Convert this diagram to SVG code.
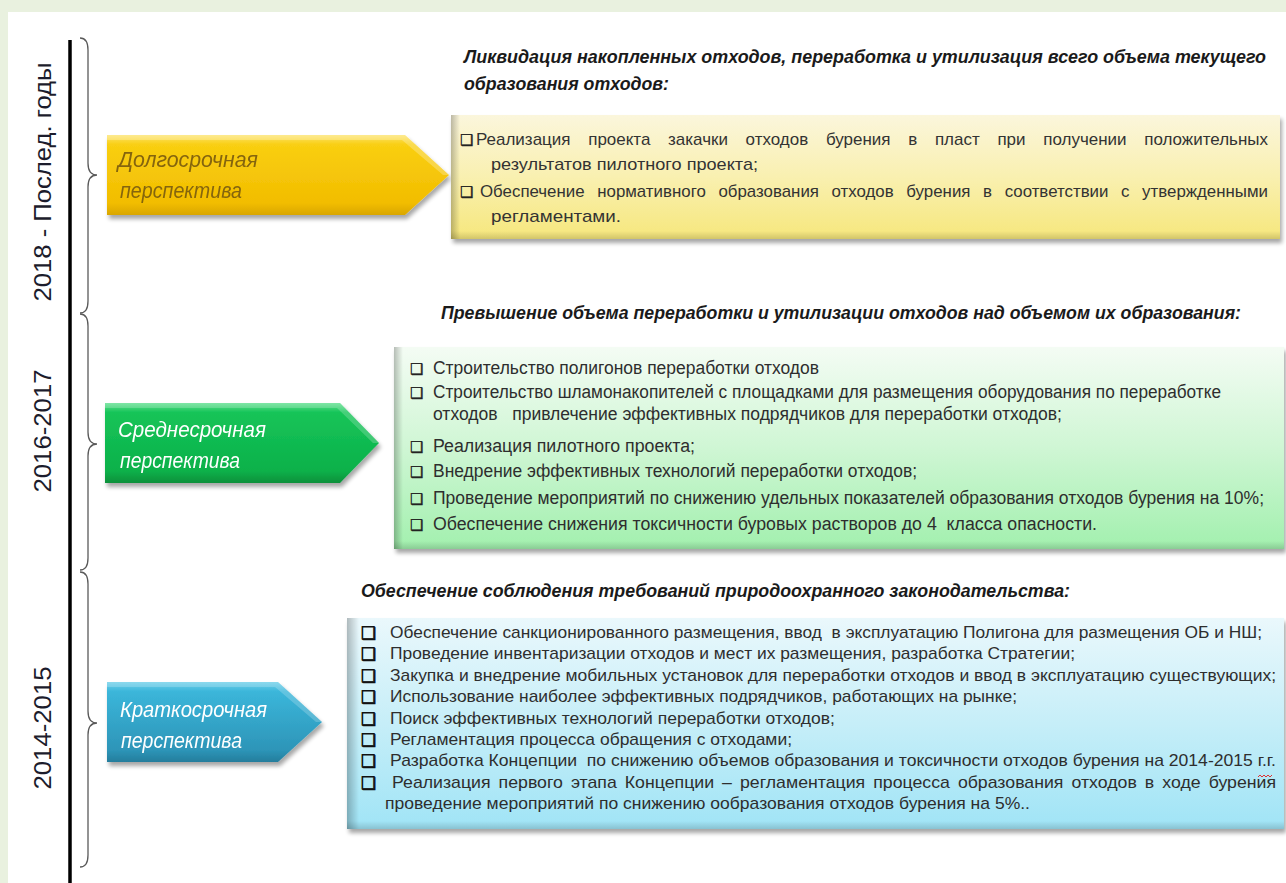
<svg xmlns="http://www.w3.org/2000/svg" width="1286" height="883" viewBox="0 0 1286 883">
<style>
.yr{font-family:"Liberation Sans",Arial,sans-serif;font-size:24px;fill:#1c1c2c;text-anchor:middle}
.lbl{font-family:"Liberation Sans",Arial,sans-serif;font-style:italic;font-size:22px}
.hd{font-family:"Liberation Sans",Arial,sans-serif;font-style:italic;font-weight:bold;font-size:18px;fill:#1a1a1a}
.tx{font-family:"Liberation Sans",Arial,sans-serif;font-size:18px;fill:#2e2e2e}
.tb{font-family:"Liberation Sans",Arial,sans-serif;font-size:17px;fill:#2e2e2e}
.ty{font-family:"Liberation Sans",Arial,sans-serif;font-size:17px;fill:#333}
.bu{font-family:"DejaVu Sans",sans-serif;font-size:15px;fill:#222;stroke:#222;stroke-width:0.4}
.bb{font-family:"DejaVu Sans",sans-serif;font-size:17px;fill:#111;stroke:#111;stroke-width:0.7}
.brace{fill:none;stroke:#5a5a5a;stroke-width:1.3}
</style>
<defs>
<filter id="sh" x="-5%" y="-10%" width="115%" height="140%">
<feGaussianBlur in="SourceAlpha" stdDeviation="2"/>
<feOffset dx="2" dy="4"/>
<feComponentTransfer><feFuncA type="linear" slope="0.35"/></feComponentTransfer>
<feMerge><feMergeNode/><feMergeNode in="SourceGraphic"/></feMerge>
</filter>
<linearGradient id="gY" x1="0" y1="0" x2="0" y2="1">
<stop offset="0" stop-color="#fde36a"/><stop offset="0.12" stop-color="#f9cf12"/><stop offset="0.85" stop-color="#f2bd00"/><stop offset="1" stop-color="#d9a600"/>
</linearGradient>
<linearGradient id="gG" x1="0" y1="0" x2="0" y2="1">
<stop offset="0" stop-color="#5fe08f"/><stop offset="0.12" stop-color="#17c458"/><stop offset="0.85" stop-color="#0ab14a"/><stop offset="1" stop-color="#08903a"/>
</linearGradient>
<linearGradient id="gB" x1="0" y1="0" x2="0" y2="1">
<stop offset="0" stop-color="#6fd0ea"/><stop offset="0.12" stop-color="#3bb6da"/><stop offset="0.85" stop-color="#2d95b8"/><stop offset="1" stop-color="#247d9c"/>
</linearGradient>
<linearGradient id="bY" x1="0" y1="0" x2="0" y2="1">
<stop offset="0" stop-color="#fbf6dc"/><stop offset="0.5" stop-color="#f9f0b0"/><stop offset="1" stop-color="#f6e77c"/>
</linearGradient>
<linearGradient id="bG" x1="0" y1="0" x2="0" y2="1">
<stop offset="0" stop-color="#f4fcf4"/><stop offset="0.5" stop-color="#cff6d4"/><stop offset="1" stop-color="#a2f0ae"/>
</linearGradient>
<linearGradient id="bB" x1="0" y1="0" x2="0" y2="1">
<stop offset="0" stop-color="#eaf8fc"/><stop offset="0.5" stop-color="#c6eef8"/><stop offset="1" stop-color="#a0e4f6"/>
</linearGradient>
<linearGradient id="edgeL" x1="0" y1="0" x2="1" y2="0">
<stop offset="0" stop-color="#000" stop-opacity="0.25"/><stop offset="1" stop-color="#000" stop-opacity="0"/>
</linearGradient>
<linearGradient id="edgeB" x1="0" y1="0" x2="0" y2="1">
<stop offset="0" stop-color="#000" stop-opacity="0"/><stop offset="1" stop-color="#000" stop-opacity="0.15"/>
</linearGradient>
</defs>

<rect x="0" y="0" width="1286" height="883" fill="#e9f1df"/>
<rect x="8" y="12" width="1278" height="871" fill="#ffffff"/>

<g id="connectors">
<line x1="70" y1="40" x2="70" y2="883" stroke="#000" stroke-width="3.5"/>
<path class="brace" d="M80,38 Q88,38 88,50 L88,163 Q88,175 97,175 Q88,175 88,187 L88,301 Q88,313 80,313"/>
<path class="brace" d="M80,314 Q88,314 88,326 L88,432 Q88,444 97,444 Q88,444 88,456 L88,558 Q88,570 80,570"/>
<path class="brace" d="M80,572 Q88,572 88,584 L88,711 Q88,723 97,723 Q88,723 88,735 L88,855 Q88,867 80,867"/>
</g>

<g id="year-long"><text class="yr" transform="translate(51,182) rotate(-90)" textLength="239" lengthAdjust="spacingAndGlyphs">2018 - Послед. годы</text></g>
<g id="year-mid"><text class="yr" transform="translate(51,431) rotate(-90)" textLength="123" lengthAdjust="spacingAndGlyphs">2016-2017</text></g>
<g id="year-short"><text class="yr" transform="translate(51,728) rotate(-90)" textLength="123" lengthAdjust="spacingAndGlyphs">2014-2015</text></g>

<g id="arrow-long" filter="url(#sh)">
<path d="M107,135 L405,135 L449,175 L405,215 L107,215 Z" fill="url(#gY)"/>
<path d="M107,135 L405,135 L449,175 L443,175 L402,140 L107,140 Z" fill="#fff" fill-opacity="0.25"/>
<text class="lbl" x="118" y="167" fill="#85650a" textLength="140" lengthAdjust="spacingAndGlyphs">Долгосрочная</text>
<text class="lbl" x="120" y="198" fill="#85650a" textLength="122" lengthAdjust="spacingAndGlyphs">перспектива</text>
</g>
<g id="arrow-mid" filter="url(#sh)">
<path d="M105,403 L340,403 L379,443 L340,483 L105,483 Z" fill="url(#gG)"/>
<path d="M105,403 L340,403 L379,443 L373,443 L337,408 L105,408 Z" fill="#fff" fill-opacity="0.2"/>
<text class="lbl" x="118" y="437" fill="#ffffff" textLength="148" lengthAdjust="spacingAndGlyphs">Среднесрочная</text>
<text class="lbl" x="120" y="468" fill="#ffffff" textLength="120" lengthAdjust="spacingAndGlyphs">перспектива</text>
</g>
<g id="arrow-short" filter="url(#sh)">
<path d="M107,682 L278,682 L322,722 L278,762 L107,762 Z" fill="url(#gB)"/>
<path d="M107,682 L278,682 L322,722 L316,722 L275,687 L107,687 Z" fill="#fff" fill-opacity="0.2"/>
<text class="lbl" x="120" y="717" fill="#ffffff" textLength="147" lengthAdjust="spacingAndGlyphs">Краткосрочная</text>
<text class="lbl" x="121" y="748" fill="#ffffff" textLength="121" lengthAdjust="spacingAndGlyphs">перспектива</text>
</g>

<g id="head-long">
<text class="hd" x="464" y="63" textLength="802" lengthAdjust="spacingAndGlyphs">Ликвидация накопленных отходов, переработка и утилизация  всего объема текущего</text>
<text class="hd" x="464" y="90" textLength="205" lengthAdjust="spacingAndGlyphs">образования отходов:</text>
</g>
<g id="box-long">
<rect x="451" y="115" width="829" height="124" fill="url(#bY)" filter="url(#sh)"/>
<rect x="451" y="115" width="9" height="124" fill="url(#edgeL)"/>
<rect x="451" y="231" width="829" height="8" fill="url(#edgeB)"/>
<text class="bu" x="460" y="145">❑</text>
<text class="ty" x="476" y="145" word-spacing="13" textLength="792" lengthAdjust="spacingAndGlyphs">Реализация проекта закачки отходов бурения в пласт при получении положительных</text>
<text class="ty" x="491" y="170" textLength="267" lengthAdjust="spacingAndGlyphs">результатов пилотного проекта;</text>
<text class="bu" x="460" y="197">❑</text>
<text class="ty" x="480" y="197" word-spacing="8" textLength="788" lengthAdjust="spacingAndGlyphs">Обеспечение нормативного образования отходов бурения в соответствии с утвержденными</text>
<text class="ty" x="491" y="222" textLength="130" lengthAdjust="spacingAndGlyphs">регламентами.</text>
</g>

<g id="head-mid">
<text class="hd" x="441" y="319" textLength="800" lengthAdjust="spacingAndGlyphs">Превышение объема переработки и утилизации отходов над объемом их образования:</text>
</g>
<g id="box-mid">
<rect x="394" y="347" width="890" height="202" fill="url(#bG)" filter="url(#sh)"/>
<rect x="394" y="347" width="9" height="202" fill="url(#edgeL)"/>
<rect x="394" y="541" width="890" height="8" fill="url(#edgeB)"/>
<text class="bu" x="410" y="374">❑</text>
<text class="tx" x="433" y="374" textLength="386" lengthAdjust="spacingAndGlyphs">Строительство полигонов переработки отходов</text>
<text class="bu" x="410" y="398">❑</text>
<text class="tx" x="433" y="398" textLength="788" lengthAdjust="spacingAndGlyphs">Строительство шламонакопителей с площадками для размещения оборудования по переработке</text>
<text class="tx" x="433" y="420" xml:space="preserve" textLength="629" lengthAdjust="spacingAndGlyphs">отходов   привлечение эффективных подрядчиков для переработки отходов;</text>
<text class="bu" x="410" y="452">❑</text>
<text class="tx" x="433" y="452" textLength="262" lengthAdjust="spacingAndGlyphs">Реализация пилотного проекта;</text>
<text class="bu" x="410" y="477">❑</text>
<text class="tx" x="433" y="477" textLength="484" lengthAdjust="spacingAndGlyphs">Внедрение эффективных технологий переработки отходов;</text>
<text class="bu" x="410" y="504">❑</text>
<text class="tx" x="433" y="504" textLength="831" lengthAdjust="spacingAndGlyphs">Проведение мероприятий по снижению удельных показателей образования отходов бурения на 10%;</text>
<text class="bu" x="410" y="530">❑</text>
<text class="tx" x="433" y="530" xml:space="preserve" textLength="664" lengthAdjust="spacingAndGlyphs">Обеспечение снижения токсичности буровых растворов до 4  класса опасности.</text>
</g>

<g id="head-short">
<text class="hd" x="361" y="597" textLength="709" lengthAdjust="spacingAndGlyphs">Обеспечение соблюдения требований природоохранного законодательства:</text>
</g>
<g id="box-short">
<rect x="347" y="618" width="937" height="211" fill="url(#bB)" filter="url(#sh)"/>
<rect x="347" y="618" width="12" height="211" fill="url(#edgeL)"/>
<rect x="347" y="821" width="937" height="8" fill="url(#edgeB)"/>
<text class="bb" x="361" y="639">❑</text>
<text class="tb" x="390" y="638" xml:space="preserve" textLength="872" lengthAdjust="spacingAndGlyphs">Обеспечение санкционированного размещения, ввод  в эксплуатацию Полигона для размещения ОБ и НШ;</text>
<text class="bb" x="361" y="660.4">❑</text>
<text class="tb" x="390" y="659.4" textLength="685" lengthAdjust="spacingAndGlyphs">Проведение инвентаризации отходов и мест их размещения, разработка Стратегии;</text>
<text class="bb" x="361" y="681.8">❑</text>
<text class="tb" x="390" y="680.8" textLength="886" lengthAdjust="spacingAndGlyphs">Закупка и внедрение мобильных установок для переработки отходов и ввод в эксплуатацию существующих;</text>
<text class="bb" x="361" y="703.2">❑</text>
<text class="tb" x="390" y="702.2" textLength="627" lengthAdjust="spacingAndGlyphs">Использование наиболее эффективных подрядчиков, работающих на рынке;</text>
<text class="bb" x="361" y="724.6">❑</text>
<text class="tb" x="390" y="723.6" textLength="445" lengthAdjust="spacingAndGlyphs">Поиск эффективных технологий переработки отходов;</text>
<text class="bb" x="361" y="746">❑</text>
<text class="tb" x="390" y="745" textLength="402" lengthAdjust="spacingAndGlyphs">Регламентация процесса обращения с отходами;</text>
<text class="bb" x="361" y="767.4">❑</text>
<text class="tb" x="390" y="766.4" xml:space="preserve" textLength="886" lengthAdjust="spacingAndGlyphs">Разработка Концепции  по снижению объемов образования и токсичности отходов бурения на 2014-2015 г.г.</text>
<text class="bb" x="361" y="788.8">❑</text>
<text class="tb" x="392" y="787.8" word-spacing="3" textLength="884" lengthAdjust="spacingAndGlyphs">Реализация первого этапа Концепции – регламентация процесса образования отходов в ходе бурения</text>
<text class="tb" x="385" y="809.2" textLength="645" lengthAdjust="spacingAndGlyphs">проведение мероприятий по снижению ообразования отходов бурения на 5%..</text>
<path d="M1258,777 l2,-2 l2,2 l2,-2 l2,2 l2,-2 l2,2 l2,-2" fill="none" stroke="#e03030" stroke-width="1"/>
</g>
</svg>
